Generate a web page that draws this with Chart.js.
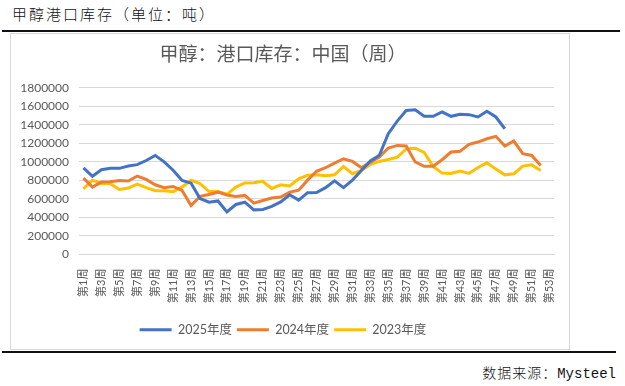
<!DOCTYPE html>
<html>
<head>
<meta charset="utf-8">
<script src="https://cdn.jsdelivr.net/npm/chart.js@4/dist/chart.umd.min.js"></script>
<style>
  body { margin: 0; background: #fff; width: 625px; height: 386px; position: relative; overflow: hidden; }
  .head { position: absolute; left: 12px; top: 3px; font: 15px "Noto Sans CJK SC", sans-serif; font-weight: 300; letter-spacing: 2px; color: #111; }
  .rule { position: absolute; left: 2px; height: 2px; background: #111; }
  .box { position: absolute; left: 10px; top: 33px; width: 558px; height: 315px; border: 1px solid #d9d9d9; }
  .src { position: absolute; right: 9px; top: 362px; font: 14px "Noto Sans CJK SC", sans-serif; font-weight: 300; letter-spacing: 1px; color: #111; }
  .src span { font-family: "Liberation Mono", monospace; letter-spacing: 0; }
</style>
</head>
<body>
<div class="head">甲醇港口库存（单位：吨）</div>
<div class="rule" style="top:30px;width:618px"></div>
<div class="box"><canvas id="chart" width="558" height="315"></canvas></div>
<div class="rule" style="top:351px;width:614px"></div>
<div class="src">数据来源：<span>Mysteel</span></div>
<script>
// week labels 第1周 .. 第53周
const weeks = [];
for (let i = 1; i <= 53; i++) weeks.push("第" + i + "周");

const seriesNames = ["2025年度", "2024年度", "2023年度"];

const y2025 = [935000, 845000, 915000, 930000, 930000, 955000, 970000, 1015000, 1070000, 1000000,
  910000, 800000, 770000, 605000, 565000, 578000, 460000, 540000, 565000, 482000,
  487000, 520000, 568000, 645000, 587000, 668000, 670000, 722000, 795000, 722000,
  803000, 908000, 1010000, 1072000, 1305000, 1440000, 1555000, 1562000, 1492000, 1492000,
  1539000, 1492000, 1514000, 1510000, 1485000, 1546000, 1485000, 1358000];

const y2024 = [825000, 728000, 782000, 786000, 800000, 793000, 847000, 811000, 753000, 721000,
  735000, 692000, 528000, 628000, 648000, 673000, 642000, 627000, 638000, 555000,
  583000, 610000, 620000, 672000, 695000, 803000, 899000, 937000, 987000, 1034000,
  1005000, 937000, 998000, 1052000, 1150000, 1178000, 1172000, 1000000, 953000, 953000,
  1023000, 1106000, 1114000, 1189000, 1214000, 1250000, 1276000, 1171000, 1225000, 1088000,
  1070000, 962000];

const y2023 = [710000, 803000, 767000, 763000, 702000, 718000, 760000, 722000, 688000, 688000,
  678000, 730000, 802000, 767000, 680000, 680000, 650000, 728000, 773000, 776000,
  790000, 713000, 752000, 740000, 818000, 857000, 860000, 850000, 861000, 951000,
  872000, 908000, 973000, 1005000, 1025000, 1050000, 1140000, 1148000, 1103000, 951000,
  879000, 875000, 902000, 875000, 940000, 990000, 922000, 860000, 872000, 955000,
  968000, 908000];

const colors = ["#4472C4", "#ED7D31", "#FFC000"];
const txt = "#595959";
const grid = "#d9d9d9";

Chart.defaults.font.family = "Lato, 'Noto Sans CJK SC', sans-serif";
Chart.defaults.color = txt;

const makeSet = (name, values, color) => ({
  label: name,
  data: values,
  borderColor: color,
  backgroundColor: color,
  borderWidth: 3,
  pointRadius: 0,
  tension: 0,
  pointStyle: "line",
});

const config = {
  type: "line",
  data: {
    labels: weeks,
    datasets: [
      makeSet(seriesNames[0], y2025, colors[0]),
      makeSet(seriesNames[1], y2024, colors[1]),
      makeSet(seriesNames[2], y2023, colors[2]),
    ],
  },
  options: {
    responsive: false,
    animation: false,
    layout: { padding: { left: 0, right: 14, bottom: 3 } },
    plugins: {
      title: {
        display: true,
        text: "甲醇：港口库存：中国（周）",
        color: txt,
        font: { size: 19, weight: "normal", family: "'Noto Sans CJK SC', sans-serif" },
        padding: { top: 8, bottom: 23 },
      },
      legend: {
        position: "bottom",
        labels: {
          usePointStyle: true,
          pointStyleWidth: 32,
          padding: 5,
          color: txt,
          font: { size: 12.5, family: "Lato, 'Noto Sans CJK SC', sans-serif" },
        },
      },
      tooltip: { enabled: false },
    },
    scales: {
      x: {
        offset: true,
        grid: { display: false },
        border: { color: grid },
        ticks: {
          autoSkip: false,
          maxRotation: 90,
          minRotation: 90,
          padding: 6,
          color: txt,
          font: { size: 11, family: "Lato, 'Noto Sans CJK SC', sans-serif" },
          callback: function (v, i) {
            return i % 2 === 0 ? this.getLabelForValue(v) : "";
          },
        },
        afterFit: (s) => { s.height = 64; },
      },
      y: {
        min: 0,
        max: 1800000,
        grid: { color: grid, drawTicks: false },
        border: { display: false },
        ticks: {
          stepSize: 200000,
          padding: 10,
          color: txt,
          font: { size: 12 },
          callback: (v) => String(v),
        },
        afterFit: (s) => { s.width = 68; },
      },
    },
  },
};

new Chart(document.getElementById("chart"), config);
</script>
</body>
</html>
